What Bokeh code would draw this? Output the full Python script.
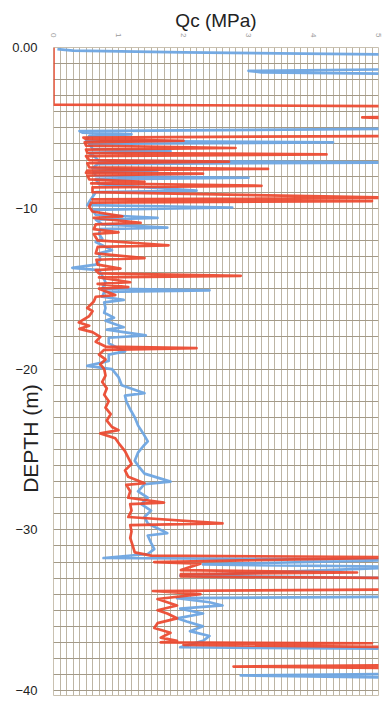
import math
from bokeh.plotting import figure
from bokeh.models import FixedTicker, Range1d
from bokeh.embed import file_html
from bokeh.resources import INLINE

# ---- data ----
x_ticks = [0, 1, 2, 3, 4, 5]
y_ticks = [0, -10, -20, -30, -40]
y_tick_labels = {0: "0.00"}

# Blue trace: depth (m, positive down) and Qc (MPa); >5 runs off the chart
blue_depth = [0.10, 0.20, 0.30, 0.45, 1.35, 1.45, 1.55, 1.65, 5.05, 5.20, 5.30, 5.40, 5.50, 5.80,
              5.90, 6.00, 6.30, 6.45, 6.55, 6.85, 7.05, 7.15, 7.25, 7.50, 7.65, 7.75, 8.00, 8.10,
              8.20, 8.50, 8.90, 9.00, 9.30, 9.60, 9.80, 9.95, 10.10, 10.40, 10.60, 10.70, 11.00,
              11.20, 11.30, 11.60, 11.90, 12.10, 12.60, 12.80, 13.20, 13.50, 13.70, 13.85, 14.20,
              14.60, 15.00, 15.10, 15.20, 15.50, 15.70, 15.85, 16.20, 16.50, 16.80, 17.00, 17.40,
              17.55, 17.90, 18.05, 18.40, 18.90, 19.10, 19.50, 19.80, 20.00, 20.50, 21.00, 21.50,
              21.65, 22.00, 22.50, 23.00, 23.50, 24.00, 24.50, 24.80, 25.20, 25.70, 26.00, 26.50,
              27.00, 27.15, 27.60, 28.00, 28.40, 28.80, 29.20, 29.60, 30.20, 30.35, 30.80, 31.20,
              31.50, 31.75, 31.85, 32.15, 32.30, 32.85, 33.00, 34.15, 34.25, 34.50, 34.70, 34.90,
              35.20, 35.50, 35.70, 36.00, 36.30, 36.60, 36.90, 37.30, 37.40, 38.95, 39.05, 39.20]
blue_qc = [0.06, 0.30, 2.00, 5.50, 5.50, 3.00, 3.20, 5.50, 5.50, 0.40, 0.45, 1.20, 0.55, 0.50,
           4.30, 0.55, 0.60, 1.80, 0.55, 0.65, 0.70, 5.50, 0.68, 0.60, 1.60, 0.62, 0.65, 3.00,
           0.65, 0.70, 2.20, 0.65, 0.60, 0.55, 0.52, 2.75, 0.60, 0.65, 1.60, 0.65, 0.75,
           1.75, 0.72, 0.70, 0.75, 0.65, 0.90, 0.70, 0.72, 0.65, 0.29, 0.70, 0.75,
           0.80, 0.75, 2.40, 0.78, 0.75, 1.08, 0.78, 0.80, 0.78, 0.93, 0.80, 1.08,
           0.82, 1.42, 0.85, 0.85, 1.10, 0.85, 0.85, 0.52, 0.90, 1.00, 1.05, 1.40,
           1.10, 1.12, 1.18, 1.25, 1.30, 1.38, 1.45, 1.38, 1.30, 1.25, 1.30, 1.40,
           1.80, 1.40, 1.30, 1.45, 1.35, 1.50, 1.40, 1.45, 1.75, 1.45, 1.50, 1.55,
           1.45, 0.77, 5.50, 2.30, 5.50, 1.95, 5.50, 5.50, 1.90, 2.40, 2.60, 1.95,
           2.30, 1.90, 2.05, 2.30, 2.10, 2.40, 2.30, 1.95, 5.50, 5.50, 2.88, 5.50]

# Red trace
red_depth = [0.00, 3.55, 3.65, 4.30, 4.35, 4.42, 5.50, 5.60, 5.70, 5.80, 5.90, 6.10, 6.25, 6.35,
             6.55, 6.65, 6.75, 7.00, 7.10, 7.20, 7.45, 7.55, 7.65, 7.80, 7.85, 7.95, 8.20, 8.35,
             8.45, 8.60, 8.70, 9.00, 9.35, 9.45, 9.55, 9.65, 9.90, 10.20, 10.50, 10.60, 10.90,
             11.00, 11.30, 11.50, 11.60, 12.00, 12.30, 12.40, 12.80, 13.10, 13.20, 13.50, 13.75,
             13.85, 14.05, 14.20, 14.30, 14.60, 14.70, 14.90, 15.00, 15.40, 15.50, 15.80, 16.20,
             16.40, 16.70, 17.10, 17.30, 17.50, 17.70, 18.00, 18.30, 18.60, 18.70, 18.80, 19.10,
             19.40, 19.70, 20.00, 20.40, 20.80, 21.20, 21.60, 22.00, 22.40, 22.80, 23.20, 23.60,
             23.80, 24.00, 24.30, 24.70, 25.10, 25.50, 25.90, 26.30, 26.70, 27.10, 27.20, 27.60,
             28.00, 28.30, 28.40, 28.80, 29.20, 29.60, 29.70, 30.10, 30.50, 31.00, 31.40, 31.60,
             31.70, 32.00, 32.10, 32.50, 32.65, 32.75, 32.90, 33.00, 33.70, 33.80, 34.00, 34.30,
             34.70, 35.00, 35.20, 35.50, 35.80, 36.10, 36.40, 36.70, 36.90, 37.00, 37.05, 37.15,
             37.30, 38.40, 38.50, 38.60]
red_qc = [0.00, 0.00, 5.50, 5.50, 4.75, 5.50, 5.50, 0.46, 0.50, 2.00, 0.48, 0.50, 2.80, 0.50,
          0.52, 4.20, 0.50, 0.55, 2.70, 0.52, 0.55, 3.30, 0.52, 0.50, 2.30, 0.52, 0.55, 1.40,
          0.58, 3.20, 0.60, 0.60, 5.50, 0.60, 4.90, 0.58, 0.55, 0.60, 1.06, 0.62, 1.34,
          0.65, 0.62, 1.00, 0.62, 0.68, 1.77, 0.68, 0.65, 1.40, 0.66, 0.68, 1.03,
          0.65, 0.70, 2.88, 0.70, 1.18, 0.68, 1.15, 0.70, 0.95, 0.65, 0.62, 0.52,
          0.60, 0.55, 0.39, 0.55, 0.40, 0.60, 0.72, 0.65, 0.80, 2.20, 0.78, 0.70,
          0.80, 0.72, 0.78, 0.80, 0.75, 0.82, 0.78, 0.85, 0.80, 0.88, 0.82, 0.90,
          1.00, 0.72, 0.95, 1.02, 1.10, 1.15, 1.20, 1.10, 1.15, 1.40, 1.12, 1.18,
          1.15, 1.70, 1.18, 1.20, 1.15, 2.60, 1.18, 1.20, 1.18, 1.22, 1.25, 1.50,
          5.50, 1.55, 2.26, 1.96, 4.67, 1.96, 1.96, 5.50, 5.50, 1.53, 2.26, 1.60,
          1.90, 1.60, 1.75, 1.90, 1.60, 1.55, 1.80, 1.65, 1.90, 1.65, 4.90, 2.00,
          5.50, 5.50, 2.77, 5.50]

FONT = "Liberation Sans"
# trailing no-break spaces shift the centred (rotated) label downward along the axis
DEPTH_LABEL = "DEPTH (m)" + "\u00a0" * 23

p = figure(width=384, height=703, output_backend="svg", toolbar_location=None,
           x_range=Range1d(0, 5), y_range=Range1d(-40.3, 0),
           x_axis_location="above",
           min_border_left=53, min_border_right=6, min_border_top=47, min_border_bottom=8)

p.title.text = "Qc (MPa)"
p.title.align = "center"
p.title.text_font = FONT
p.title.text_font_size = "19px"
p.title.text_font_style = "normal"
p.title.text_color = "#222222"
p.title.standoff = 0

p.background_fill_color = "white"
p.border_fill_color = "white"
p.outline_line_color = "#c9c1b1"

# grid
p.xgrid.ticker = FixedTicker(ticks=[i / 10 for i in range(51)])
p.ygrid.ticker = FixedTicker(ticks=[-i for i in range(41)])
p.xgrid.grid_line_color = "#bdb5a4"
p.xgrid.grid_line_width = 1
p.ygrid.grid_line_color = "#a39a88"
p.ygrid.grid_line_width = 1.2

# x axis (top)
p.xaxis.ticker = FixedTicker(ticks=x_ticks)
p.xaxis.major_label_orientation = -math.pi / 2
p.xaxis.major_label_text_font_size = "8px"
p.xaxis.major_label_text_color = "#9a9a9a"
p.xaxis.major_label_text_font = FONT
p.xaxis.major_label_standoff = 4
p.xaxis.axis_line_color = None
p.xaxis.major_tick_line_color = None
p.xaxis.minor_tick_line_color = None

# y axis
p.yaxis.ticker = FixedTicker(ticks=y_ticks)
p.yaxis.major_label_overrides = y_tick_labels
p.yaxis.major_label_text_font_size = "13px"
p.yaxis.major_label_text_color = "#222222"
p.yaxis.major_label_text_font = FONT
p.yaxis.major_label_standoff = 10
p.yaxis.axis_line_color = None
p.yaxis.major_tick_line_color = None
p.yaxis.minor_tick_line_color = None
p.yaxis.axis_label = DEPTH_LABEL
p.yaxis.axis_label_text_font = FONT
p.yaxis.axis_label_text_font_size = "21px"
p.yaxis.axis_label_text_font_style = "normal"
p.yaxis.axis_label_text_color = "#222222"
p.yaxis.axis_label_standoff = -33

blue_y = [-d for d in blue_depth]
red_y = [-d for d in red_depth]

p.line(blue_qc, blue_y, line_color="#6ea5e1", line_width=2.7, line_alpha=0.95, line_join="round")
p.line(red_qc, red_y, line_color="#eb462d", line_width=2.7, line_alpha=0.92, line_join="round")

open("out.html", "w").write(file_html(p, INLINE))
